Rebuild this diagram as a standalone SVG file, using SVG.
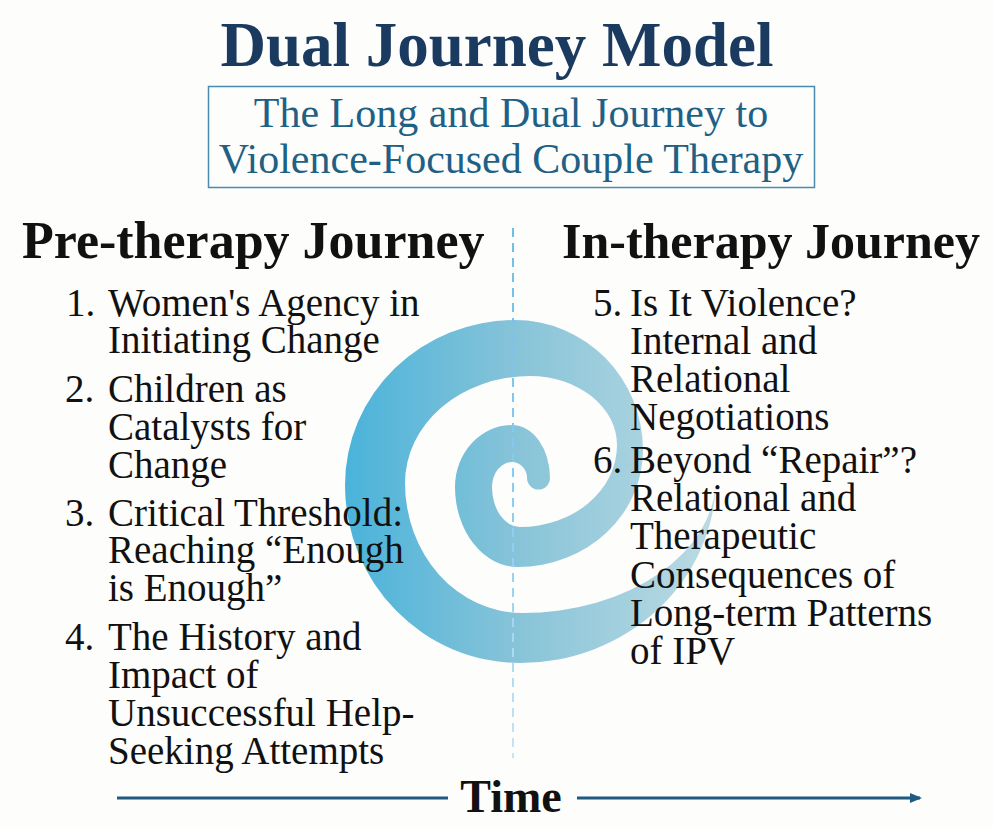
<svg xmlns="http://www.w3.org/2000/svg" width="993" height="829" viewBox="0 0 993 829">
  <style>
    .serif { font-family: "Liberation Serif", "Times New Roman", serif; }
    .title { font-size: 63px; font-weight: bold; fill: #1b3a5f; }
    .sub { font-size: 42px; fill: #1f6185; }
    .head { font-weight: bold; fill: #111111; }
    .item { font-size: 39px; fill: #111111; }
    .axis { stroke: #1f5b80; stroke-width: 3; fill: none; }
  </style>
  <defs>
    <linearGradient id="spiralFill" gradientUnits="userSpaceOnUse" x1="345" y1="0" x2="716" y2="0">
      <stop offset="0" stop-color="#4ab3da"/>
      <stop offset="0.45" stop-color="#86c3d8"/>
      <stop offset="1" stop-color="#bcdbe3"/>
    </linearGradient>
    <linearGradient id="dashFill" gradientUnits="userSpaceOnUse" x1="0" y1="228" x2="0" y2="758">
      <stop offset="0" stop-color="#6fbde9"/>
      <stop offset="0.6" stop-color="#90cff2"/>
      <stop offset="1" stop-color="#c8e4f2"/>
    </linearGradient>
    <marker id="arrowHead" markerUnits="userSpaceOnUse" markerWidth="12" markerHeight="10" refX="10" refY="5" orient="auto">
      <path d="M0,0 L12,5 L0,10 Z" fill="#1f5b80"/>
    </marker>
  </defs>
  <rect x="0" y="0" width="993" height="829" fill="#fdfdfc"/>

  <g id="spiral">
    <path fill="url(#spiralFill)" d="M 527 478 A 15 16 0 0 0 512 462 A 20 25 0 0 0 492 487 A 28 40 0 0 0 520 527 A 97 82 0 0 0 617 445 A 87 69 0 0 0 530 376 A 125 107 0 0 0 405 483 A 117 130 0 0 0 522 613 A 194 135 0 0 0 716 478 A 196 185 0 0 1 520 663 A 175 178 0 0 1 345 485 A 170 165 0 0 1 515 320 A 128 130 0 0 1 643 450 A 125 117 0 0 1 518 567 A 63 80 0 0 1 455 487 A 57 62 0 0 1 512 425 A 38 53 0 0 1 550 478 A 11.5 11.5 0 0 1 527 478 Z"/>
  </g>

  <g id="divider">
    <line x1="513" y1="228" x2="513" y2="758" stroke="url(#dashFill)" stroke-width="2" stroke-dasharray="9 6"/>
  </g>

  <g id="title">
    <text class="serif title" x="497" y="66" text-anchor="middle">Dual Journey Model</text>
  </g>

  <g id="subtitle">
    <rect x="208.5" y="86.5" width="606" height="101" fill="none" stroke="#4a8aaa" stroke-width="1.5"/>
    <text class="serif sub" x="511" y="127" text-anchor="middle">The Long and Dual Journey to</text>
    <text class="serif sub" x="511" y="173" text-anchor="middle">Violence-Focused Couple Therapy</text>
  </g>

  <g id="pre-therapy">
    <text class="serif head" x="22" y="258" font-size="52">Pre-therapy Journey</text>
    <g id="item1">
      <text class="serif item" x="66" y="316">1.</text>
      <text class="serif item" x="108" y="316">Women's Agency in</text>
      <text class="serif item" x="108" y="353">Initiating Change</text>
    </g>
    <g id="item2">
      <text class="serif item" x="65" y="402">2.</text>
      <text class="serif item" x="108" y="402">Children as</text>
      <text class="serif item" x="108" y="440">Catalysts for</text>
      <text class="serif item" x="108" y="478">Change</text>
    </g>
    <g id="item3">
      <text class="serif item" x="65" y="526">3.</text>
      <text class="serif item" x="108" y="526">Critical Threshold:</text>
      <text class="serif item" x="108" y="563">Reaching “Enough</text>
      <text class="serif item" x="108" y="601">is Enough”</text>
    </g>
    <g id="item4">
      <text class="serif item" x="65" y="650">4.</text>
      <text class="serif item" x="108" y="650">The History and</text>
      <text class="serif item" x="108" y="688">Impact of</text>
      <text class="serif item" x="108" y="726">Unsuccessful Help-</text>
      <text class="serif item" x="108" y="764">Seeking Attempts</text>
    </g>
  </g>

  <g id="in-therapy">
    <text class="serif head" x="562" y="258" font-size="50">In-therapy Journey</text>
    <g id="item5">
      <text class="serif item" x="593" y="316">5.</text>
      <text class="serif item" x="630" y="316">Is It Violence?</text>
      <text class="serif item" x="630" y="354">Internal and</text>
      <text class="serif item" x="630" y="392">Relational</text>
      <text class="serif item" x="630" y="430">Negotiations</text>
    </g>
    <g id="item6">
      <text class="serif item" x="593" y="473">6.</text>
      <text class="serif item" x="630" y="473">Beyond “Repair”?</text>
      <text class="serif item" x="630" y="511">Relational and</text>
      <text class="serif item" x="630" y="549">Therapeutic</text>
      <text class="serif item" x="630" y="588">Consequences of</text>
      <text class="serif item" x="630" y="626">Long-term Patterns</text>
      <text class="serif item" x="630" y="664">of IPV</text>
    </g>
  </g>

  <g id="connectors">
    <line class="axis" x1="117" y1="798" x2="448" y2="798"/>
    <line class="axis" x1="577" y1="798" x2="920" y2="798" marker-end="url(#arrowHead)"/>
  </g>

  <g id="time-label">
    <text class="serif" x="511" y="812" text-anchor="middle" font-size="46" font-weight="bold" fill="#111111">Time</text>
  </g>
</svg>
